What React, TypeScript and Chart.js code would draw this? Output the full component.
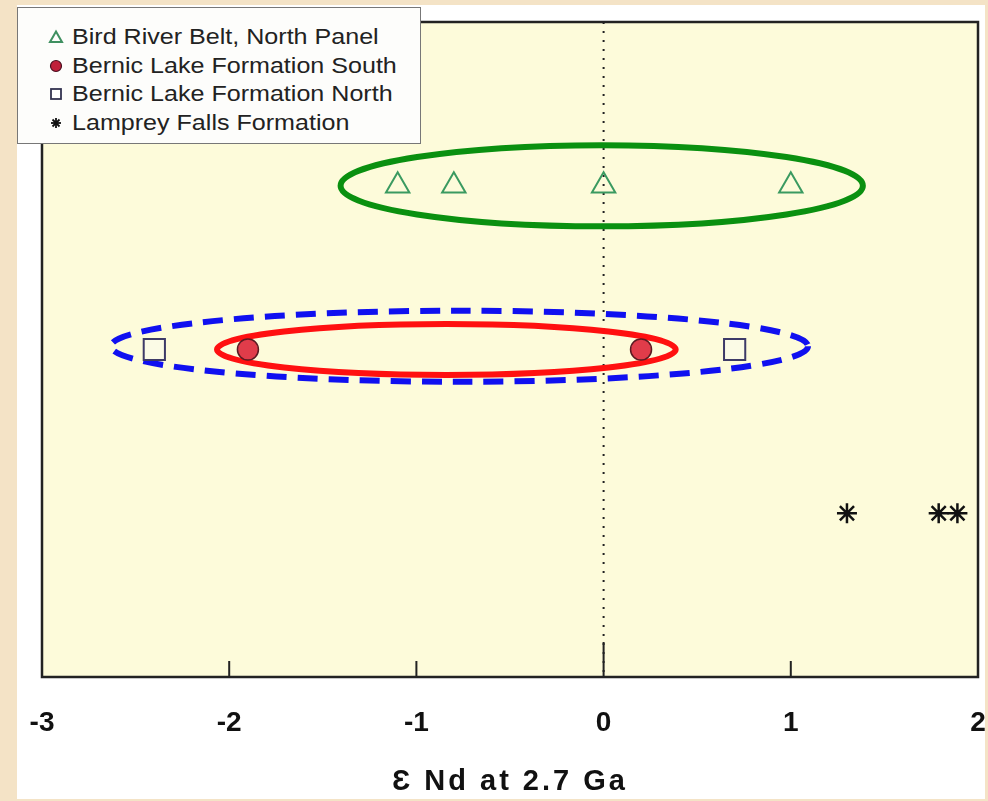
import React, { useEffect, useRef } from "react";
import { Chart, registerables } from "chart.js";

Chart.register(...registerables);

// ---- data ----
const xTickValues = [-3, -2, -1, 0, 1, 2];
const seriesLabels = [
  "Bird River Belt, North Panel",
  "Bernic Lake Formation South",
  "Bernic Lake Formation North",
  "Lamprey Falls Formation",
];
const birdRiverX = [-1.1, -0.8, 0.0, 1.0];
const birdRiverY = [3, 3, 3, 3];
const bernicSouthX = [-1.9, 0.2];
const bernicSouthY = [2, 2];
const bernicNorthX = [-2.4, 0.7];
const bernicNorthY = [2, 2];
const lampreyX = [1.3, 1.79, 1.89];
const lampreyY = [1, 1, 1];

// ellipses (data units): green, red, blue dashed
const ellipseCx = [-0.01, -0.84, -0.77];
const ellipseCy = [3.0, 2.0, 2.02];
const ellipseRx = [1.395, 1.225, 1.862];
const ellipseRy = [0.248, 0.155, 0.217];
const ellipseColors = ["#0a9010", "#ff1010", "#1010f0"];
const ellipseDashed = [false, false, true];

const FONT_SANS = '"Liberation Sans", Arial, sans-serif';

const decorPlugin = {
  id: "decor",
  beforeDraw(chart: any) {
    const { ctx, chartArea: a } = chart;
    ctx.save();
    ctx.fillStyle = "#fdfbda";
    ctx.fillRect(a.left, a.top, a.right - a.left, a.bottom - a.top);
    ctx.restore();
    const xs = chart.scales.x;
    if (xs && !xs.__spacedTitle) {
      const orig = xs.drawTitle.bind(xs);
      xs.drawTitle = (...args: any[]) => {
        const c = xs.ctx;
        c.save();
        (c as any).letterSpacing = "3px";
        orig(...args);
        c.restore();
      };
      xs.__spacedTitle = true;
    }
  },
  beforeDatasetsDraw(chart: any) {
    const { ctx, chartArea: a } = chart;
    const xs = chart.scales.x;
    const ys = chart.scales.y;
    ctx.save();
    const x0 = xs.getPixelForValue(0);
    ctx.strokeStyle = "#222";
    ctx.lineWidth = 2;
    ctx.setLineDash([2, 7]);
    ctx.beginPath();
    ctx.moveTo(x0, a.top);
    ctx.lineTo(x0, a.bottom);
    ctx.stroke();
    ctx.setLineDash([]);
    for (let i = 0; i < ellipseCx.length; i++) {
      const cx = xs.getPixelForValue(ellipseCx[i]);
      const cy = ys.getPixelForValue(ellipseCy[i]);
      const rx = Math.abs(xs.getPixelForValue(ellipseCx[i] + ellipseRx[i]) - cx);
      const ry = Math.abs(ys.getPixelForValue(ellipseCy[i] + ellipseRy[i]) - cy);
      ctx.strokeStyle = ellipseColors[i];
      ctx.lineWidth = 6;
      ctx.setLineDash(ellipseDashed[i] ? [20, 11] : []);
      ctx.beginPath();
      ctx.ellipse(cx, cy, rx, ry, 0, 0, Math.PI * 2);
      ctx.stroke();
    }
    ctx.restore();
  },
  afterDraw(chart: any) {
    const { ctx, chartArea: a } = chart;
    const xs = chart.scales.x;
    ctx.save();
    ctx.strokeStyle = "#222";
    ctx.lineWidth = 2.5;
    ctx.strokeRect(a.left, a.top, a.right - a.left, a.bottom - a.top);
    ctx.lineWidth = 2;
    for (const v of xTickValues) {
      const px = xs.getPixelForValue(v);
      if (px <= a.left + 1 || px >= a.right - 1) continue;
      const len = v === 0 ? 35 : 16;
      ctx.beginPath();
      ctx.moveTo(px, a.bottom);
      ctx.lineTo(px, a.bottom - len);
      ctx.stroke();
    }
    ctx.restore();
  },
};

function Marker({ kind }: { kind: number }) {
  return (
    <svg width={16} height={16} viewBox="0 0 16 16" style={{ display: "block" }}>
      {kind === 0 && (
        <polygon points="8,2.5 14,13 2,13" fill="none" stroke="#3f9060" strokeWidth="2" />
      )}
      {kind === 1 && <circle cx="8" cy="8" r="5.5" fill="#c0203a" stroke="#4a1020" strokeWidth="1.2" />}
      {kind === 2 && <rect x="3" y="3" width="10" height="10" fill="#fff" stroke="#333350" strokeWidth="1.8" />}
      {kind === 3 && (
        <g stroke="#111" strokeWidth="1.8">
          <line x1="8" y1="3" x2="8" y2="13" />
          <line x1="3" y1="8" x2="13" y2="8" />
          <line x1="4.5" y1="4.5" x2="11.5" y2="11.5" />
          <line x1="11.5" y1="4.5" x2="4.5" y2="11.5" />
        </g>
      )}
    </svg>
  );
}

export default function App() {
  const canvasRef = useRef<HTMLCanvasElement | null>(null);

  useEffect(() => {
    if (!canvasRef.current) return;
    const toPts = (xs: number[], ys: number[]) => xs.map((x, i) => ({ x, y: ys[i] }));
    const chart = new Chart(canvasRef.current, {
      type: "scatter",
      data: {
        datasets: [
          {
            label: seriesLabels[0],
            data: toPts(birdRiverX, birdRiverY),
            pointStyle: "triangle",
            pointRadius: 13.5,
            borderColor: "#3a9a60",
            backgroundColor: "rgba(0,0,0,0)",
            borderWidth: 2,
          },
          {
            label: seriesLabels[1],
            data: toPts(bernicSouthX, bernicSouthY),
            pointStyle: "circle",
            pointRadius: 10.5,
            borderColor: "#5a1a22",
            backgroundColor: "#e03c4a",
            borderWidth: 1.5,
          },
          {
            label: seriesLabels[2],
            data: toPts(bernicNorthX, bernicNorthY),
            pointStyle: "rect",
            pointRadius: 15,
            borderColor: "#3d3a68",
            backgroundColor: "#fbfbe6",
            borderWidth: 2,
          },
          {
            label: seriesLabels[3],
            data: toPts(lampreyX, lampreyY),
            pointStyle: "star",
            pointRadius: 10,
            borderColor: "#111",
            backgroundColor: "#111",
            borderWidth: 2.5,
          },
        ] as any,
      },
      options: {
        animation: false,
        responsive: false,
        layout: { autoPadding: false, padding: { left: 42, right: 10, top: 22, bottom: 0 } },
        plugins: { legend: { display: false }, tooltip: { enabled: false } },
        scales: {
          x: {
            type: "linear",
            min: -3,
            max: 2,
            grid: { display: false },
            border: { display: false },
            afterBuildTicks: (s: any) => {
              s.ticks = xTickValues.map((v) => ({ value: v }));
            },
            afterFit: (s: any) => {
              s.height = 124;
              s.paddingLeft = 0;
              s.paddingRight = 0;
            },
            ticks: {
              padding: 21,
              color: "#111",
              font: { family: FONT_SANS, size: 28, weight: "bold" },
              maxRotation: 0,
              autoSkip: false,
            },
            title: {
              display: true,
              text: "Ɛ Nd at 2.7 Ga",
              color: "#111",
              font: { family: FONT_SANS, size: 29, weight: "bold" },
              padding: { top: 0, bottom: 2 },
            },
          },
          y: {
            type: "linear",
            min: 0,
            max: 4,
            display: false,
          },
        },
      } as any,
      plugins: [decorPlugin],
    });
    return () => chart.destroy();
  }, []);

  return (
    <div style={{ position: "fixed", left: 0, top: 0, width: 988, height: 801, background: "#f4e3c6", overflow: "hidden" }}>
      <div style={{ position: "absolute", left: 17, top: 5, width: 968, height: 794, background: "#ffffff" }} />
      <canvas ref={canvasRef} width={988} height={801} style={{ position: "absolute", left: 0, top: 0, width: 988, height: 801 }} />
      <div
        style={{
          position: "absolute",
          left: 17,
          top: 7,
          width: 404,
          height: 137,
          background: "#fdfdfb",
          border: "1px solid #777",
          boxSizing: "border-box",
          fontFamily: FONT_SANS,
          fontSize: 22,
          color: "#222",
          paddingTop: 15,
        }}
      >
        {seriesLabels.map((lab, i) => (
          <div key={lab} style={{ display: "flex", alignItems: "center", height: 28.5 }}>
            <div style={{ width: 16, marginLeft: 30, marginRight: 8 }}>
              <Marker kind={i} />
            </div>
            <span style={{ display: "inline-block", whiteSpace: "nowrap", transform: "scaleX(1.14)", transformOrigin: "left center" }}>
              {lab}
            </span>
          </div>
        ))}
      </div>
    </div>
  );
}
